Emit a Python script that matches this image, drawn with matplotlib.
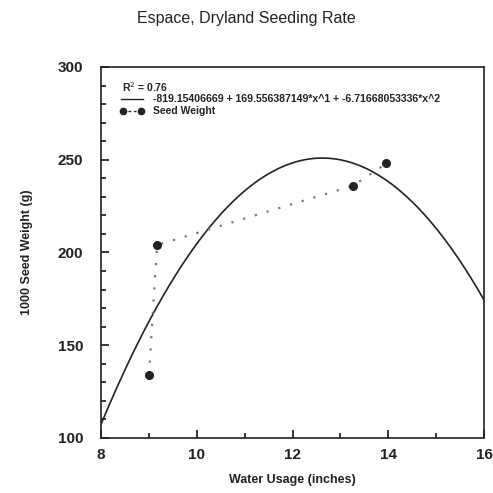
import numpy as np
import matplotlib.pyplot as plt
from matplotlib.ticker import MultipleLocator

plt.rcParams['font.family'] = ['Liberation Sans', 'DejaVu Sans']

# Observed seed weight vs water usage
water = [9.0, 9.17, 13.26, 13.96]
seed_weight = [134, 204, 236, 248]

# Quadratic fit coefficients (c0 + c1*x + c2*x^2)
c0, c1, c2 = -819.15406669, 169.556387149, -6.71668053336
r_squared = 0.76

x_ticks = [8, 10, 12, 14, 16]
y_ticks = [100, 150, 200, 250, 300]

fig = plt.figure(figsize=(4.93, 4.93), dpi=100)
ax = fig.add_axes([0.205, 0.1116, 0.777, 0.7525])

xs = np.linspace(8, 16, 300)
ax.plot(xs, c0 + c1 * xs + c2 * xs ** 2, color='#222222', lw=1.2)

ax.plot(water, seed_weight, linestyle=(0, (1, 4.5)), color='#777777', lw=1.6)
ax.plot(water, seed_weight, 'o', color='#222222', ms=5.5, lw=0)

ax.set_xlim(8, 16)
ax.set_ylim(100, 300)
ax.set_xticks(x_ticks)
ax.set_yticks(y_ticks)
ax.xaxis.set_minor_locator(MultipleLocator(1))
ax.yaxis.set_minor_locator(MultipleLocator(10))
ax.tick_params(which='both', direction='in', top=False, right=False,
               labelsize=11, width=1.1)
ax.tick_params(which='major', length=6)
ax.tick_params(which='minor', length=3.5)
ax.tick_params(axis='y', pad=13)
ax.tick_params(axis='x', pad=7)
for lab in ax.get_xticklabels() + ax.get_yticklabels():
    lab.set_fontweight('bold')
    lab.set_color('#222222')
for sp in ax.spines.values():
    sp.set_linewidth(1.2)
    sp.set_color('#222222')

ax.set_xlabel('Water Usage (inches)', fontsize=9, fontweight='bold', color='#222222', labelpad=9)
ax.set_ylabel('1000 Seed Weight (g)', fontsize=9, fontweight='bold', color='#222222', labelpad=18)
fig.suptitle('Espace, Dryland Seeding Rate', x=0.5, y=0.978, fontsize=11.5, color='#222222')

# Legend block
tr = ax.transAxes
ax.text(0.055, 0.946, f'R$^2$ = {r_squared:.2f}', transform=tr, fontsize=7.5,
        fontweight='bold', va='center', color='#222222')
ax.plot([0.052, 0.11], [0.913, 0.913], transform=tr, color='#222222', lw=1.0)
ax.text(0.135, 0.913, f'{c0:.8f} + {c1:.9f}*x^1 + {c2:.11f}*x^2', transform=tr,
        fontsize=7.6, fontweight='bold', va='center', color='#222222')
ax.plot([0.057], [0.881], 'o', transform=tr, color='#222222', ms=4.5)
ax.plot([0.07, 0.09], [0.881, 0.881], transform=tr, color='#222222', lw=1.0, ls=(0, (2, 2)))
ax.plot([0.103], [0.881], 'o', transform=tr, color='#222222', ms=4.5)
ax.text(0.135, 0.881, 'Seed Weight', transform=tr, fontsize=7.5, fontweight='bold',
        va='center', color='#222222')

fig.savefig('out.png', dpi=100, facecolor='white')
